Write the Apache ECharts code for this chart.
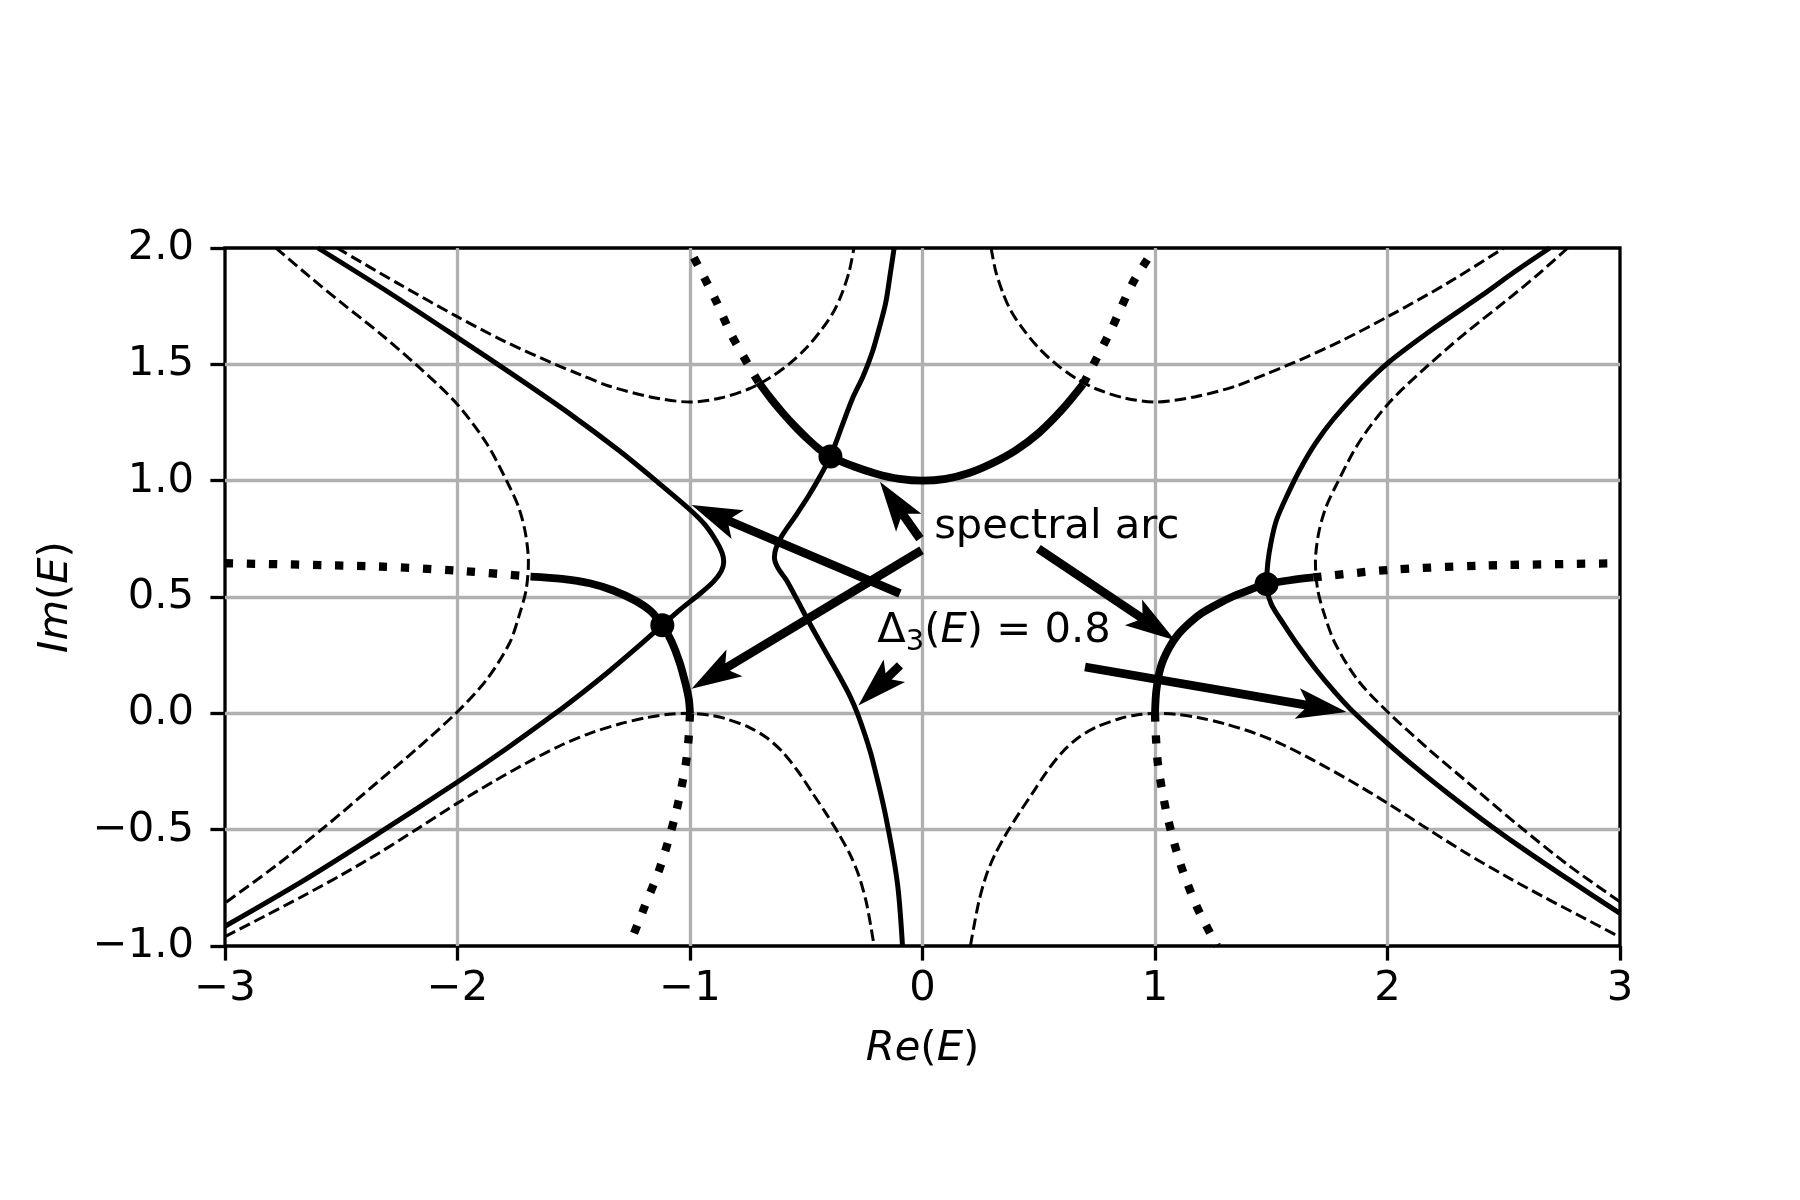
<!DOCTYPE html>
<html><head><meta charset="utf-8">
<script src="https://cdn.jsdelivr.net/npm/echarts@6/dist/echarts.min.js"></script>
<style>html,body{margin:0;padding:0;background:#fff}#c{width:1800px;height:1200px}</style>
</head><body><div id="c"></div>
<script>
// ---- axis ticks ----
const xTicks = [-3, -2, -1, 0, 1, 2, 3];
const yTicks = [-1.0, -0.5, 0.0, 0.5, 1.0, 1.5, 2.0];

// ---- dashed curves ----
const dashedUpperLeft = [[-2.518,2.0],[-2.26,1.85],[-2.007,1.708],[-1.8,1.6],[-1.596,1.507],[-1.47,1.455],[-1.349,1.407],[-1.17,1.36],[-1.0,1.338],[-0.87,1.355],[-0.748,1.394],[-0.66,1.44],[-0.576,1.5],[-0.5,1.57],[-0.432,1.652],[-0.38,1.73],[-0.345,1.809],[-0.315,1.9],[-0.295,2.0]];
const dashedUpperRight = [[0.295,2.0],[0.315,1.9],[0.345,1.809],[0.38,1.73],[0.432,1.652],[0.5,1.57],[0.576,1.5],[0.66,1.44],[0.748,1.394],[0.87,1.355],[1.0,1.338],[1.17,1.36],[1.349,1.407],[1.47,1.455],[1.596,1.507],[1.8,1.6],[2.007,1.708],[2.26,1.85],[2.5,2.0]];
const dashedLeftC = [[-2.781,2.0],[-2.64,1.88],[-2.501,1.766],[-2.33,1.63],[-2.172,1.493],[-2.007,1.335],[-1.876,1.162],[-1.777,0.976],[-1.735,0.88],[-1.707,0.77],[-1.695,0.65],[-1.705,0.53],[-1.735,0.42],[-1.777,0.3],[-1.876,0.143],[-2.0,0.007],[-2.172,-0.15],[-2.337,-0.29],[-2.567,-0.485],[-2.781,-0.655],[-3.0,-0.815]];
const dashedRightC = [[2.775,2.0],[2.64,1.88],[2.501,1.766],[2.33,1.63],[2.172,1.493],[2.007,1.335],[1.876,1.162],[1.777,0.976],[1.733,0.88],[1.703,0.77],[1.69,0.65],[1.7,0.53],[1.73,0.42],[1.775,0.3],[1.872,0.143],[2.0,0.007],[2.172,-0.15],[2.337,-0.29],[2.567,-0.485],[2.781,-0.655],[3.0,-0.81]];
const dashedLowerLeft = [[-3.0,-0.96],[-2.83,-0.872],[-2.666,-0.786],[-2.5,-0.695],[-2.337,-0.6],[-2.17,-0.495],[-2.0,-0.386],[-1.84,-0.29],[-1.678,-0.2],[-1.55,-0.135],[-1.431,-0.086],[-1.3,-0.045],[-1.184,-0.018],[-1.09,-0.004],[-1.0,0.0],[-0.92,-0.007],[-0.85,-0.022],[-0.746,-0.06],[-0.67,-0.105],[-0.603,-0.165],[-0.535,-0.25],[-0.473,-0.343],[-0.415,-0.43],[-0.359,-0.52],[-0.31,-0.61],[-0.273,-0.7],[-0.24,-0.82],[-0.208,-1.0]];
const dashedLowerRight = [[0.206,-1.0],[0.24,-0.82],[0.273,-0.7],[0.31,-0.61],[0.359,-0.52],[0.415,-0.43],[0.473,-0.343],[0.535,-0.25],[0.603,-0.165],[0.67,-0.105],[0.746,-0.06],[0.85,-0.022],[0.92,-0.007],[1.0,0.0],[1.09,-0.004],[1.184,-0.018],[1.3,-0.045],[1.431,-0.086],[1.55,-0.135],[1.678,-0.2],[1.84,-0.29],[2.0,-0.386],[2.17,-0.495],[2.337,-0.6],[2.5,-0.695],[2.666,-0.786],[2.83,-0.872],[3.0,-0.962]];

// ---- thin solid curves (Delta_3(E) = 0.8) ----
const thinLeft = [[-2.6,2.0],[-2.3,1.812],[-2.0,1.615],[-1.75,1.448],[-1.514,1.285],[-1.3,1.125],[-1.135,0.99],[-1.0,0.875],[-0.935,0.81],[-0.89,0.745],[-0.862,0.69],[-0.855,0.65],[-0.866,0.61],[-0.9,0.565],[-0.956,0.515],[-1.04,0.448],[-1.119,0.379],[-1.23,0.281],[-1.349,0.18],[-1.46,0.091],[-1.579,0.0],[-1.79,-0.152],[-2.0,-0.295],[-2.337,-0.514],[-2.666,-0.721],[-3.0,-0.915]];
const thinMiddle = [[-0.122,2.0],[-0.14,1.88],[-0.158,1.766],[-0.185,1.66],[-0.216,1.552],[-0.255,1.45],[-0.302,1.351],[-0.35,1.225],[-0.396,1.104],[-0.44,1.02],[-0.489,0.936],[-0.545,0.85],[-0.604,0.764],[-0.63,0.71],[-0.637,0.67],[-0.622,0.625],[-0.585,0.572],[-0.535,0.48],[-0.485,0.386],[-0.42,0.27],[-0.356,0.157],[-0.31,0.07],[-0.28,0.0],[-0.245,-0.1],[-0.215,-0.2],[-0.158,-0.443],[-0.108,-0.729],[-0.086,-1.0]];
const thinRight = [[2.698,2.0],[2.55,1.9],[2.411,1.8],[2.2,1.655],[2.003,1.507],[1.88,1.39],[1.766,1.263],[1.69,1.16],[1.623,1.047],[1.57,0.94],[1.523,0.832],[1.5,0.74],[1.485,0.645],[1.48,0.556],[1.5,0.47],[1.552,0.386],[1.62,0.285],[1.695,0.185],[1.77,0.095],[1.839,0.02],[2.0,-0.129],[2.13,-0.24],[2.269,-0.351],[2.41,-0.458],[2.556,-0.563],[2.78,-0.715],[3.0,-0.86]];

// ---- thick solid spectral arcs ----
const arcTop = [[-0.705,1.423],[-0.65,1.35],[-0.6,1.29],[-0.55,1.235],[-0.5,1.185],[-0.45,1.14],[-0.396,1.104],[-0.3,1.063],[-0.2,1.03],[-0.1,1.008],[0.0,1.0],[0.1,1.008],[0.2,1.033],[0.3,1.075],[0.4,1.13],[0.5,1.205],[0.6,1.305],[0.691,1.415]];
const arcLeft = [[-1.686,0.588],[-1.55,0.578],[-1.431,0.559],[-1.33,0.528],[-1.234,0.484],[-1.17,0.44],[-1.119,0.379],[-1.08,0.31],[-1.045,0.22],[-1.02,0.13],[-1.005,0.06],[-1.0,0.0]];
const arcRight = [[1.0,0.0],[1.006,0.1],[1.025,0.2],[1.06,0.28],[1.1,0.34],[1.15,0.39],[1.2,0.43],[1.27,0.47],[1.337,0.503],[1.41,0.532],[1.48,0.556],[1.58,0.572],[1.681,0.584]];

// ---- thick dotted continuations ----
const dotLeft = [[-3.0,0.645],[-2.337,0.631],[-2.0,0.613],[-1.686,0.588]];
const dotRight = [[1.681,0.584],[2.003,0.616],[2.411,0.635],[3.0,0.645]];
const dotUpLeft = [[-0.705,1.423],[-0.82,1.623],[-0.892,1.781],[-1.005,2.0]];
const dotUpRight = [[0.691,1.415],[0.806,1.638],[0.906,1.853],[1.0,2.0]];
const dotLowLeft = [[-1.0,0.0],[-1.007,-0.12],[-1.02,-0.229],[-1.061,-0.429],[-1.127,-0.657],[-1.2,-0.843],[-1.262,-1.0]];
const dotLowRight = [[1.0,0.0],[1.005,-0.12],[1.014,-0.229],[1.05,-0.429],[1.108,-0.643],[1.179,-0.829],[1.267,-1.0]];

// ---- branch points ----
const branchPoints = [[-1.119,0.379],[-0.396,1.104],[1.48,0.556]];

// ---- annotations ----
const spectralText = 'spectral arc';
const spectralTextPos = [0.05, 0.75];
const spectralArrows = [[[-0.011,0.751],[-0.183,0.995]], [[-0.004,0.701],[-0.993,0.106]], [[0.498,0.708],[1.086,0.314]]];
const deltaTextPos = [-0.195, 0.30];
const deltaArrows = [[[-0.097,0.515],[-0.993,0.895]], [[-0.097,0.206],[-0.276,0.034]], [[0.699,0.199],[1.824,0.006]]];

const FONT = 'DejaVu Sans';
const FS = 41.7;
const fmtMinus = s => String(s).replace('-', '\u2212');

function lineSeries(data, width, type, z) {
  return {type:'line', data:data, showSymbol:false, symbol:'none', smooth:0.3, silent:true, z:z,
    lineStyle:{color:'#000', width:width, type:type, cap:'butt', join:'round', opacity:1}};
}
const DASH = [11.5, 5];
const DOT = [8.3, 13.7];

const series = [];
[dashedUpperLeft, dashedUpperRight, dashedLeftC, dashedRightC, dashedLowerLeft, dashedLowerRight].forEach(d => series.push(lineSeries(d, 3, DASH, 2)));
[thinLeft, thinMiddle, thinRight].forEach(d => series.push(lineSeries(d, 5, 'solid', 3)));
[arcTop, arcLeft, arcRight].forEach(d => series.push(lineSeries(d, 7.8, 'solid', 4)));
[dotLeft, dotRight, dotUpLeft, dotUpRight, dotLowLeft, dotLowRight].forEach(d => series.push(lineSeries(d, 8.3, DOT, 4)));
series.push({type:'scatter', data:branchPoints, symbol:'circle', symbolSize:24, itemStyle:{color:'#000', opacity:1}, silent:true, z:5});

const allArrows = spectralArrows.concat(deltaArrows);
series.push({type:'custom', coordinateSystem:'cartesian2d', silent:true, z:6,
  data: allArrows.map(a => [a[0][0], a[0][1], a[1][0], a[1][1]]),
  encode:{x:[0,2], y:[1,3]},
  renderItem: function(params, api) {
    const p0 = api.coord([api.value(0), api.value(1)]);
    const p1 = api.coord([api.value(2), api.value(3)]);
    const dx = p1[0]-p0[0], dy = p1[1]-p0[1];
    const L = Math.hypot(dx, dy);
    const ux = dx/L, uy = dy/L, nx = -uy, ny = ux;
    const hl = 46, hw = 15.5, sw = 4.4;
    const P = (a, b) => [p1[0]-ux*a+nx*b, p1[1]-uy*a+ny*b];
    const pts = [p1, P(hl+4, hw), P(hl-4, sw), [p0[0]+nx*sw, p0[1]+ny*sw], [p0[0]-nx*sw, p0[1]-ny*sw], P(hl-4, -sw), P(hl+4, -hw)];
    return {type:'polygon', shape:{points:pts}, style:{fill:'#000'}};
  }
});

const txt = {fontFamily:FONT, fontSize:FS, color:'#000', lineHeight:50};
series.push({type:'scatter', data:[spectralTextPos], symbolSize:0, silent:true, z:7, itemStyle:{opacity:1},
  label:{show:true, position:'right', distance:0, offset:[0,-12], formatter: spectralText,
    fontFamily:FONT, fontSize:FS, color:'#000', opacity:1}});
series.push({type:'scatter', data:[deltaTextPos], symbolSize:0, silent:true, z:7, itemStyle:{opacity:1},
  label:{show:true, position:'right', distance:0, offset:[0,-12], opacity:1,
    formatter: '{n|\u0394}{s|3}{n|(}{i|E}{n|) = 0.8}',
    rich:{n:txt, i:Object.assign({}, txt, {fontStyle:'italic'}),
      s:{fontFamily:FONT, fontSize:29, color:'#000', lineHeight:36, verticalAlign:'bottom'}}}});

const nameRich = {n:{fontFamily:FONT, fontSize:FS, color:'#000'}, i:{fontFamily:FONT, fontSize:FS, fontStyle:'italic', color:'#000'}};
const chart = echarts.init(document.getElementById('c'), null, {renderer:'canvas', width:1800, height:1200});
chart.setOption({
  animation:false,
  backgroundColor:'#ffffff',
  grid:{left:225, top:248, width:1395, height:698, show:true, borderColor:'#000', borderWidth:3.3, backgroundColor:'transparent'},
  xAxis:{type:'value', min:xTicks[0], max:xTicks[xTicks.length-1], interval:1,
    axisLine:{show:false, onZero:false},
    axisTick:{show:true, length:14.6, lineStyle:{color:'#000', width:3.3}},
    axisLabel:{margin:22, color:'#000', fontFamily:FONT, fontSize:FS, formatter: v => fmtMinus(v)},
    splitLine:{show:true, showMinLine:false, showMaxLine:false, lineStyle:{color:'#b0b0b0', width:3.3}},
    name:'{i|Re}{n|(}{i|E}{n|)}', nameLocation:'middle', nameGap:103,
    nameTextStyle:{verticalAlign:'middle', rich:nameRich}},
  yAxis:{type:'value', min:yTicks[0], max:yTicks[yTicks.length-1], interval:0.5,
    axisLine:{show:false, onZero:false},
    axisTick:{show:true, length:14.6, lineStyle:{color:'#000', width:3.3}},
    axisLabel:{margin:31, color:'#000', fontFamily:FONT, fontSize:FS, formatter: v => fmtMinus(v.toFixed(1))},
    splitLine:{show:true, showMinLine:false, showMaxLine:false, lineStyle:{color:'#b0b0b0', width:3.3}},
    name:'{i|Im}{n|(}{i|E}{n|)}', nameLocation:'middle', nameGap:169,
    nameTextStyle:{verticalAlign:'middle', rich:nameRich}},
  series: series
});
</script>
</body></html>
